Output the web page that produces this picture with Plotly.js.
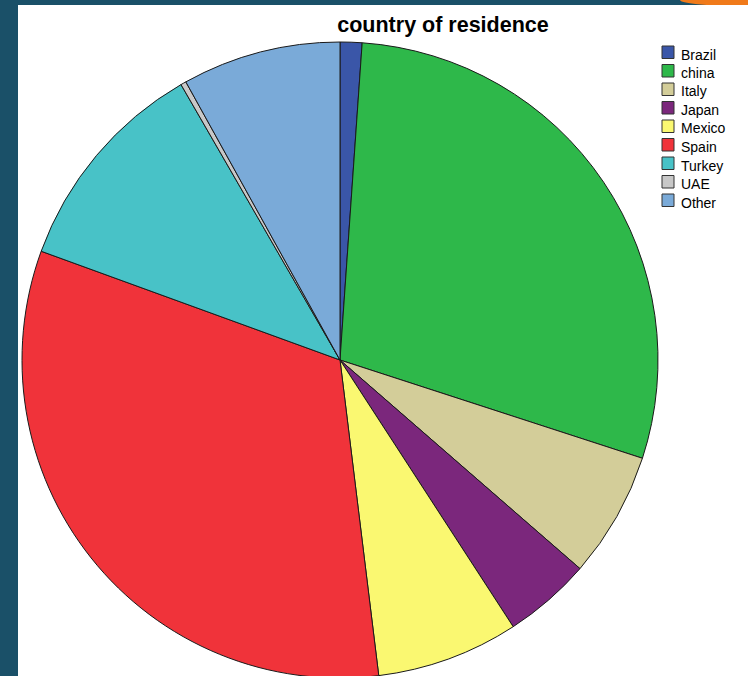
<!DOCTYPE html>
<html>
<head>
<meta charset="utf-8">
<script src="https://cdn.plot.ly/plotly-3.0.1.min.js"></script>
<style>
html,body{margin:0;padding:0;width:748px;height:676px;overflow:hidden;background:#1a5068;}
#corner{position:absolute;left:680px;top:0;width:80px;height:6px;background:#f07a1a;border-bottom-left-radius:60px 6px;}
#chart{position:absolute;left:18px;top:5px;width:730px;height:700px;background:#fff;}
</style>
</head>
<body>
<div id="corner"></div>
<div id="chart"></div>
<script>
const countries = ["Brazil","china","Italy","Japan","Mexico","Spain","Turkey","UAE","Other"];
const counts = [4, 104, 23, 16, 26, 117, 40, 1, 29];
const sliceColors = ["#3a56a8","#2eb84a","#d3cd99","#7b277c","#faf871","#f0333a","#48c2c7","#c8c8c8","#7aaad8"];

const W = 730, H = 700;
const trace = {
  type: "pie",
  labels: countries,
  values: counts,
  sort: false,
  direction: "clockwise",
  rotation: 0,
  textinfo: "none",
  hoverinfo: "label+value",
  marker: {colors: sliceColors, line: {color: "#1a1a1a", width: 1}},
  domain: {x: [4/W, 640/W], y: [27/H, 663/H]}
};

// custom legend (swatch + label), built from the category arrays
const shapes = [], annotations = [];
countries.forEach((c, i) => {
  const top = 41 + 18.5 * i;
  shapes.push({type: "rect", xref: "paper", yref: "paper",
    x0: 644/W, x1: 656/W, y0: 1 - (top + 12.5)/H, y1: 1 - top/H,
    fillcolor: sliceColors[i], line: {color: "#333", width: 1}});
  annotations.push({xref: "paper", yref: "paper", x: 661/W, y: 1 - (top + 8.5)/H,
    xanchor: "left", yanchor: "middle", text: c, showarrow: false,
    font: {size: 14, color: "#000"}});
});

const layout = {
  width: W, height: H,
  margin: {l:0, r:0, t:0, b:0},
  paper_bgcolor: "#ffffff",
  font: {family: "Liberation Sans, Arial, sans-serif", color: "#000"},
  title: {text: "<b>country of residence</b>", font: {size: 21.5, color: "#000"},
          x: 425/W, xanchor: "center", xref: "container", y: 1 - 19.5/H, yref: "container", yanchor: "middle"},
  showlegend: false,
  shapes: shapes,
  annotations: annotations
};

Plotly.newPlot("chart", [trace], layout, {displayModeBar: false, staticPlot: true});
</script>
</body>
</html>
